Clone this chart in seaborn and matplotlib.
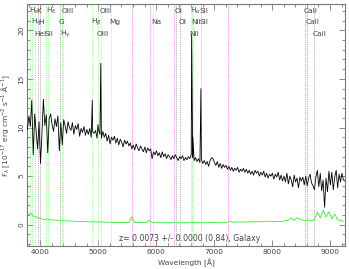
import numpy as np
import pandas as pd
import matplotlib
matplotlib.use("Agg")
import matplotlib.pyplot as plt
import matplotlib.transforms as mtransforms
import seaborn as sns

# ---------------- data ----------------
grid_start, grid_step = 3780, 25
flux = [
    9.8, 11.2, 10.1, 12.8, 7.2, 11.4, 9.6, 7.8, 10.6, 6.3,
    9.4, 12.9, 10.2, 11.3, 7.4, 10.9, 11.4, 10.3, 9.6, 10.9,
    10.1, 11.2, 7.6, 10.5, 8.2, 10.8, 10.2, 9.4, 10.6, 10.0,
    9.7, 10.5, 9.3, 10.2, 9.8, 10.4, 9.1, 9.9, 9.5, 10.1,
    9.2, 9.8, 9.3, 9.9, 9.0, 9.6, 9.4, 9.7, 8.9, 9.8,
    9.3, 8.9, 9.6, 9.0, 9.4, 8.6, 9.2, 8.3, 9.0, 8.7,
    9.1, 8.4, 8.9, 8.2, 8.8, 8.5, 8.0, 8.7, 8.3, 8.6,
    8.1, 8.4, 7.8, 8.2, 7.7, 8.3, 7.9, 7.6, 8.1, 7.8,
    7.5, 8.0, 7.4, 7.9, 7.6, 7.8, 6.8, 7.5, 7.2, 7.6,
    7.1, 7.4, 6.9, 7.5, 7.0, 7.3, 6.8, 7.2, 7.0, 6.7,
    7.1, 6.8, 7.2, 6.9, 6.6, 7.0, 6.8, 7.1, 6.6, 6.9,
    6.7, 7.0, 6.8, 7.2, 6.9, 6.6, 6.9, 6.5, 6.8, 6.4,
    6.7, 6.3, 6.6, 6.2, 6.5, 6.0, 6.6, 6.9, 6.8, 6.4,
    6.1, 6.5, 5.9, 6.3, 5.8, 6.2, 5.9, 6.1, 5.7, 6.0,
    5.6, 5.9, 5.5, 5.8, 5.6, 5.9, 5.4, 5.7, 5.5, 5.8,
    5.4, 5.7, 5.3, 5.6, 5.2, 5.5, 5.1, 5.6, 5.3, 5.5,
    5.0, 5.4, 5.1, 5.5, 4.9, 5.3, 4.8, 5.2, 5.0, 5.3,
    4.7, 5.2, 4.9, 5.4, 4.6, 5.1, 4.5, 5.0, 4.4, 5.3,
    4.2, 5.0, 4.6, 3.9, 5.1, 4.4, 4.8, 3.8, 4.9, 4.5,
    4.9, 4.1, 5.0, 4.0, 4.8, 5.2, 4.3, 4.0, 3.6, 4.9,
    5.6, 3.9, 5.3, 3.5, 4.6, 1.8, 4.8, 3.4, 5.5, 4.1,
    5.4, 3.6, 4.9, 5.6, 3.8, 5.2, 4.4, 5.3, 4.6, 4.5,
]
# emission-line peaks in the spectrum
em_wl = [4898, 4996, 5045, 6612, 6633, 6772]
em_flux = [12.8, 10.3, 16.6, 19.6, 9.0, 14.0]

err_start, err_step = 3780, 50
err = [
    1.0, 1.2, 0.9, 0.8, 0.7, 0.6, 0.55, 0.6, 0.5, 0.48,
    0.47, 0.45, 0.44, 0.4, 0.4, 0.38, 0.36, 0.35, 0.34, 0.33,
    0.32, 0.3, 0.3, 0.29, 0.28, 0.3, 0.27, 0.26, 0.26, 0.25,
    0.25, 0.24, 0.24, 0.23, 0.23, 0.24, 0.8, 0.23, 0.22, 0.22,
    0.22, 0.22, 0.5, 0.22, 0.21, 0.21, 0.21, 0.21, 0.2, 0.2,
    0.2, 0.25, 0.2, 0.2, 0.2, 0.2, 0.22, 0.25, 0.2, 0.22,
    0.2, 0.22, 0.2, 0.23, 0.21, 0.22, 0.2, 0.23, 0.21, 0.24,
    0.35, 0.25, 0.28, 0.3, 0.26, 0.3, 0.27, 0.32, 0.28, 0.34,
    0.3, 0.33, 0.36, 0.31, 0.38, 0.32, 0.35, 0.3, 0.33, 0.42,
    0.5, 0.68, 0.45, 0.72, 0.55, 0.45, 0.42, 0.5, 0.4, 0.55,
    1.3, 0.7, 1.5, 0.8, 1.35, 0.6, 1.1, 0.5, 0.45, 0.35,
]

line_names = ["H$_\\epsilon$", "H$_\\eta$", "HeI", "K", "H", "SII", "H$_\\delta$", "G",
              "H$_\\gamma$", "OIII", "H$_\\beta$", "OIII", "OIII", "Mg", "Na", "OI", "OI",
              "NII", "H$_\\alpha$", "NII", "SII", "SII", "CaII", "CaII", "CaII"]
line_wl = [3826, 3864, 3917, 3963, 3998, 4102, 4133, 4337,
           4373, 4396, 4898, 4996, 5045, 5214, 5937, 6348, 6412,
           6598, 6612, 6633, 6767, 6781, 8562, 8607, 8728]
line_row = [1, 2, 3, 1, 2, 3, 1, 2,
            3, 1, 2, 3, 1, 2, 2, 1, 2,
            3, 1, 2, 1, 2, 1, 2, 3]
line_kind = ["em", "em", "em", "abs", "abs", "em", "em", "abs",
             "em", "em", "em", "em", "em", "em", "em", "abs", "abs",
             "em", "em", "em", "em", "em", "abs", "abs", "abs"]
sky_wl = [5577, 5893, 6300, 7246]

title_text = "z= 0.0073 +/- 0.0000 (0.84), Galaxy"
xlabel = "Wavelength [Å]"
ylabel = "F$_\\lambda$ [10$^{-17}$ erg cm$^{-2}$ s$^{-1}$ Å$^{-1}$]"

# ---------------- build frames ----------------
wl_grid = grid_start + grid_step * np.arange(len(flux))
spec = pd.DataFrame({"wl": np.concatenate([wl_grid, em_wl]),
                     "flux": np.concatenate([flux, em_flux])}).sort_values("wl")
err_df = pd.DataFrame({"wl": err_start + err_step * np.arange(len(err)), "err": err})

# ---------------- plot ----------------
sns.set_style("ticks")
plt.rcParams["font.family"] = ["DejaVu Sans"]
fs = 5.3
tc = "#444444"
fig = plt.figure(figsize=(3.49, 2.69), dpi=100)
ax = fig.add_axes([0.077, 0.085, 0.912, 0.9])

colors = {"em": "#7fff7f", "abs": "#999999"}
for w, k in zip(line_wl, line_kind):
    ax.axvline(w, color=colors[k], ls=(0, (1, 1.2)), lw=0.6, zorder=1)
for w in sky_wl:
    ax.axvline(w, color="#ff66ff", ls=(0, (1, 1.2)), lw=0.6, zorder=1)

sns.lineplot(data=err_df, x="wl", y="err", ax=ax, color="#33ee33", lw=0.6,
             estimator=None, sort=True, zorder=2)
sns.lineplot(data=spec, x="wl", y="flux", ax=ax, color="black", lw=0.6,
             estimator=None, sort=True, zorder=3)

xlim = (3770, 9260)
ax.set_xlim(*xlim)
ax.set_ylim(-2.2, 22.7)

trans = mtransforms.blended_transform_factory(ax.transData, ax.transAxes)
row_y = {1: 0.972, 2: 0.924, 3: 0.876}
for name, w, r in zip(line_names, line_wl, line_row):
    ax.text(max(w - 25, xlim[0] + 10), row_y[r], name, transform=trans, ha="left",
            va="center", fontsize=fs, color=tc, zorder=4)

ax.text(0.51, 0.012, title_text, transform=ax.transAxes, ha="center", va="bottom",
        fontsize=fs + 0.3, color=tc)

ax.set_xlabel(xlabel, fontsize=fs, color=tc)
ax.set_ylabel(ylabel, fontsize=fs, color=tc)
ax.xaxis.set_label_coords(0.5, -0.052)
ax.yaxis.set_label_coords(-0.046, 0.5)
ax.set_xticks([4000, 5000, 6000, 7000, 8000, 9000])
ax.set_xticks(np.arange(3800, 9300, 200), minor=True)
ax.set_yticks([0, 5, 10, 15, 20])
ax.set_yticks(np.arange(-2, 23, 1), minor=True)
ax.tick_params(which="both", direction="in", top=True, right=True, colors="#777777",
               labelcolor=tc, labelsize=fs, width=0.6)
ax.tick_params(which="major", length=4, pad=2)
ax.tick_params(which="minor", length=2)
for lab in ax.get_yticklabels():
    lab.set_rotation(90)
    lab.set_va("center")
for s in ax.spines.values():
    s.set_color("#777777")
    s.set_linewidth(0.8)

fig.savefig("out.png", dpi=100)
